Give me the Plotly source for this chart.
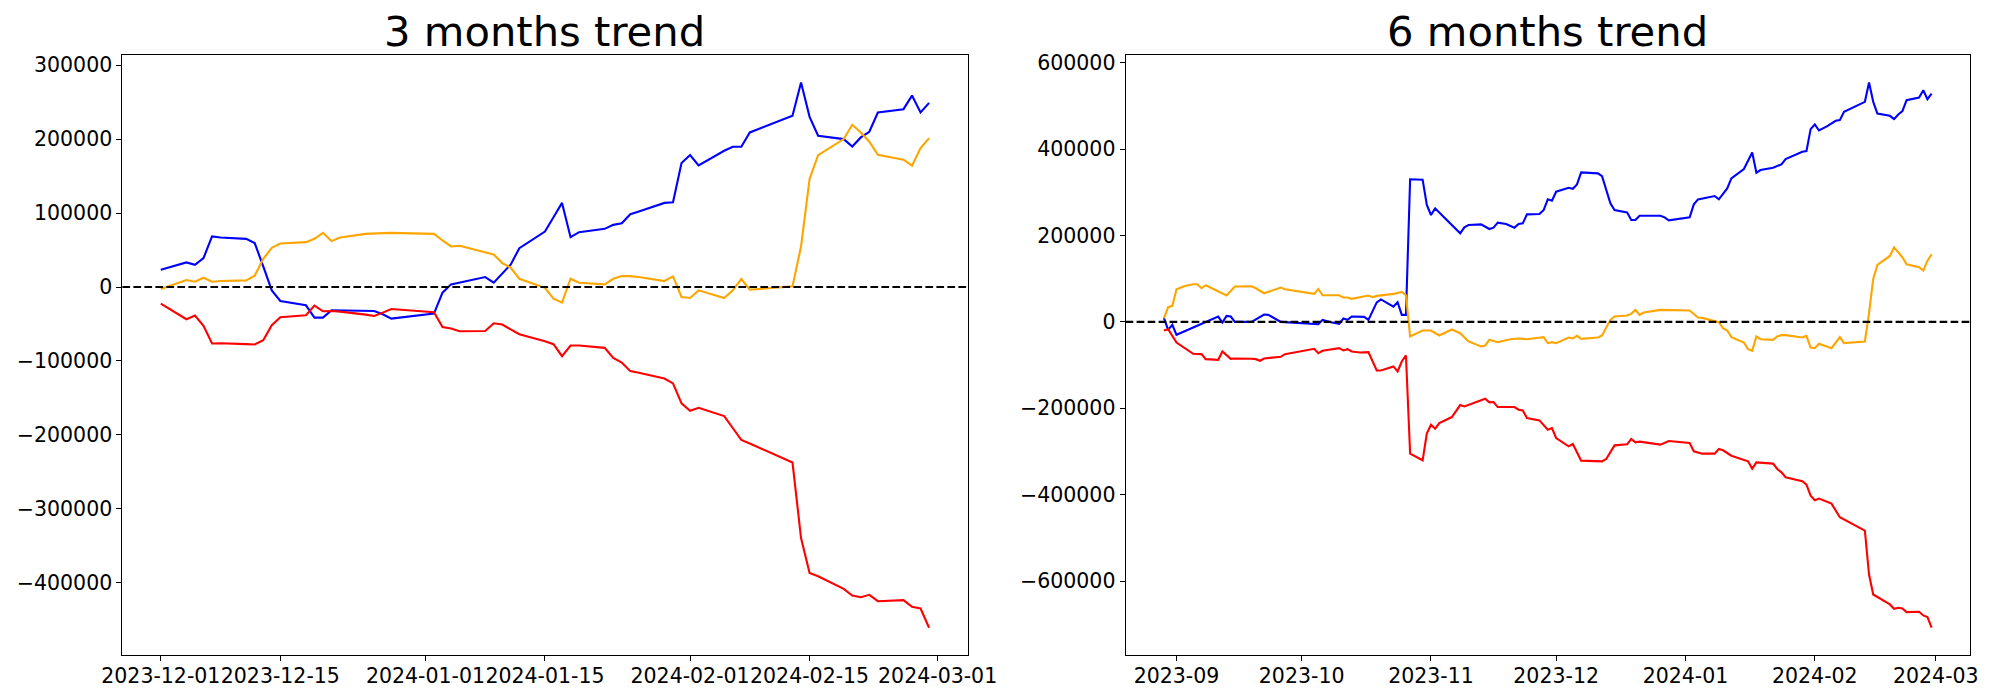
import pandas as pd
import plotly.graph_objects as go

# ---------------- 3 months trend (day offsets from start3) ----------------
start3 = "2023-12-01"
days3 = [0, 3, 4, 5, 6, 7, 10, 11, 12, 13, 14, 17, 18, 19, 20, 21, 24, 25, 26, 27,
         32, 33, 34, 35, 38, 39, 40, 41, 42, 45, 46, 47, 48, 49, 52, 53, 54, 55, 56,
         59, 60, 61, 62, 63, 66, 67, 68, 69, 74, 75, 76, 77, 80, 81, 82, 83, 84,
         87, 88, 89, 90]
blue3 = [23400, 33300, 30100, 39100, 68400, 67000, 65200, 59400, 27900, -4500, -18900,
         -24700, -41400, -41400, -31500, -31800, -32300, -32400, -36900, -42700,
         -36000, -7600, 3600, 6100, 13500, 5800, 18000, 30600, 52600, 75100, 94500,
         113800, 67500, 74200, 78700, 84100, 86300, 98500, 102100, 113800, 114700,
         167700, 178500, 164600, 184400, 189800, 189800, 209100, 231600, 276600,
         230200, 204600, 200100, 190200, 202400, 210000, 236100, 240600, 259000,
         236100, 249100]
orange3 = [-2700, 9400, 7200, 12600, 7200, 8100, 9000, 15300, 38200, 53100, 58900,
           60700, 65200, 73300, 62100, 67000, 71900, 72900, 72900, 73300,
           71900, 63000, 54900, 55800, 46300, 44100, 32400, 26100, 11200, -1000, -15700,
           -21100, 11200, 5800, 3600, 11200, 14800, 14800, 13500, 8100, 14400,
           -13500, -14800, -4500, -14800, -4500, 10800, -3600, 900, 54900,
           146200, 178500, 200100, 219500, 209100, 196500, 179000, 172200, 164100,
           188000, 201500]
red3 = [-22500, -43600, -38700, -52600, -76400, -76000, -77300, -77800, -72000, -51700,
        -40900, -38200, -25200, -32800, -32400, -33300, -37300, -39100, -34600, -29700,
        -34200, -54000, -56200, -59800, -59400, -49000, -50800, -57600, -63900, -73300,
        -77300, -93500, -79100, -79100, -82300, -95800, -102100, -113800, -116000,
        -123700, -130400, -157400, -167300, -163300, -174500, -190700, -206900,
        -211600, -237400, -339500, -386700, -391200, -408300, -417300, -419600,
        -416400, -425000, -423600, -432600, -434900, -460900]
ticks3 = ["2023-12-01", "2023-12-15", "2024-01-01", "2024-01-15", "2024-02-01",
          "2024-02-15", "2024-03-01"]
yticks3 = [-400000, -300000, -200000, -100000, 0, 100000, 200000, 300000]

# ---------------- 6 months trend (day offsets from start6) ----------------
start6 = "2023-09-01"
blue6_days = [-3, -2, -1, 0, 4, 6, 8, 10, 11, 12, 13, 14, 18, 19, 21, 22, 25, 34, 35,
              37, 39, 40, 41, 42, 45, 46, 48, 49, 52, 53, 54, 55, 56, 59, 60, 61, 62,
              64, 66, 68, 69, 70, 73, 74, 75, 76, 77, 79, 81, 82, 83, 84, 87, 88, 89,
              90, 91, 94, 95, 96, 97, 101, 102, 104, 105, 108, 109, 110, 111, 116,
              117, 118, 123, 124, 125, 129, 130, 132, 133, 136, 138, 139, 140, 143,
              144, 145, 146, 150, 151, 152, 153, 154, 156, 158, 159, 160, 165, 166,
              167, 168, 171, 172, 173, 174, 175, 178, 179, 180, 181]
blue6 = [8500, -18500, -6900, -30000, -13100, -4600, 4600, 12300, -1500, 13900, 12300,
         0, 0, 6200, 16900, 16200, 0, -5400, 4600, -800, -4600, 7700, 4600, 12300,
         11600, 4600, 45000, 52000, 35400, 45400, 16200, 16200, 330000, 329000,
         270400, 247300, 262700, 243400, 224200, 204900, 218800, 224200, 225700,
         220300, 214900, 218000, 229500, 226500, 218000, 226500, 228000, 248800,
         249600, 258800, 283500, 280400, 301200, 310400, 308100, 318100, 345900,
         343600, 337400, 274200, 258800, 253400, 235700, 235700, 245700, 245700,
         241900, 234900, 241900, 271900, 283500, 291200, 283500, 308900, 332000,
         353600, 392100, 345100, 351300, 356600, 361300, 364400, 376700, 393600,
         395200, 446000, 456800, 442900, 452900, 465300, 466800, 486100, 509200,
         553800, 509200, 482200, 476800, 469100, 479900, 487600, 513000, 519200,
         536100, 515300, 528400]
orange6_days = [-3, -2, -1, 0, 2, 4, 5, 6, 7, 9, 10, 12, 14, 18, 19, 21, 25, 26, 33,
                34, 35, 39, 40, 41, 42, 46, 47, 48, 52, 54, 55, 56, 59, 61, 63, 66, 68,
                70, 73, 74, 75, 77, 80, 82, 84, 88, 89, 90, 91, 94, 95, 96, 97, 101,
                102, 104, 105, 108, 109, 110, 111, 112, 116, 118, 123, 125, 126, 130,
                131, 132, 133, 136, 137, 138, 139, 140, 143, 144, 145, 146, 150, 151,
                152, 153, 154, 157, 159, 160, 165, 166, 167, 168, 171, 172, 174, 175,
                178, 179, 180, 181]
orange6 = [8500, 33900, 37000, 75500, 83200, 87000, 87000, 77800, 84700, 75500, 71600,
           60900, 81700, 82400, 77800, 66200, 79300, 75500, 64700, 76300, 61600, 61600,
           56200, 56200, 53200, 60900, 57000, 60100, 64700, 69300, 61600, -33900,
           -20000, -20000, -31600, -17700, -26200, -45400, -57000, -54700, -41600,
           -47000, -40100, -38500, -40100, -35400, -49300, -47000, -49300, -36200,
           -38500, -32400, -39300, -36200, -31600, 4600, 12300, 14600, 18500, 27700,
           16200, 21600, 27700, 27000, 26200, 10000, 9200, -800, -14600, -20000,
           -35400, -47800, -63200, -67000, -33900, -40100, -41600, -33900, -30800,
           -30800, -36200, -32400, -59300, -60900, -50800, -60900, -35400, -49300,
           -45400, 20000, 99400, 131700, 152500, 172500, 149400, 133300, 126300,
           118600, 141700, 156400]
red6_days = [-3, -2, 0, 4, 6, 7, 10, 11, 13, 14, 18, 19, 20, 21, 25, 26, 33, 34, 35,
             39, 40, 41, 42, 44, 46, 48, 49, 52, 53, 54, 55, 56, 59, 60, 61, 62, 63,
             66, 68, 69, 74, 75, 76, 77, 81, 82, 83, 84, 87, 89, 90, 91, 94, 95, 97,
             102, 103, 105, 108, 109, 110, 111, 116, 118, 123, 124, 126, 129, 130,
             131, 133, 137, 138, 139, 143, 144, 145, 146, 150, 151, 152, 153, 154,
             157, 159, 165, 166, 167, 171, 172, 173, 174, 175, 178, 179, 180, 181]
red6 = [-20000, -16900, -47800, -73900, -74700, -86300, -87800, -68600, -85500, -84700,
        -85500, -86300, -90100, -84700, -80900, -74700, -62400, -72400, -67000, -60900,
        -66200, -63200, -68600, -70900, -70100, -112500, -112500, -103200, -114800,
        -91700, -77800, -305000, -320400, -258800, -238000, -247300, -234200,
        -220300, -192600, -195700, -177900, -186400, -185600, -197200, -197200,
        -203400, -204900, -222600, -228000, -249600, -245700, -268800, -288100,
        -282700, -321200, -322800, -317400, -285800, -283500, -271100, -278900,
        -277300, -284200, -275800, -280400, -299600, -305000, -305000, -294300,
        -297300, -309700, -322800, -339700, -325100, -328100, -340500, -348200,
        -359700, -369000, -376700, -402100, -412900, -409000, -420600, -452200,
        -483000, -584700, -630900, -654000, -664000, -661700, -663200, -671700,
        -670900, -679400, -683200, -707900]
ticks6 = ["2023-09-01", "2023-10-01", "2023-11-01", "2023-12-01", "2024-01-01",
          "2024-02-01", "2024-03-01"]
ticks6_text = ["2023-09", "2023-10", "2023-11", "2023-12", "2024-01", "2024-02", "2024-03"]
yticks6 = [-600000, -400000, -200000, 0, 200000, 400000, 600000]

titles = ["3 months trend", "6 months trend"]
colors = {"blue": "blue", "orange": "orange", "red": "red"}


def to_dates(start, days):
    return pd.Timestamp(start) + pd.to_timedelta(days, unit="D")


def pad_range(lo, hi, frac=0.05):
    span = hi - lo
    return lo - span * frac, hi + span * frac


FONT = "DejaVu Sans"
fig = go.Figure()

panels = [
    dict(xa="x", ya="y", series=[(to_dates(start3, days3), blue3, "blue"),
                                 (to_dates(start3, days3), orange3, "orange"),
                                 (to_dates(start3, days3), red3, "red")],
         xticks=ticks3, xtext=ticks3, yticks=yticks3),
    dict(xa="x2", ya="y2", series=[(to_dates(start6, blue6_days), blue6, "blue"),
                                   (to_dates(start6, orange6_days), orange6, "orange"),
                                   (to_dates(start6, red6_days), red6, "red")],
         xticks=ticks6, xtext=ticks6_text, yticks=yticks6),
]

domains_x = [[122.4 / 2000, 967.5 / 2000], [1125.6 / 2000, 1970 / 2000]]
dom_y = [1 - 655 / 700, 1 - 55.3 / 700]

for i, p in enumerate(panels):
    allx = []
    ally = []
    for xs, ys, c in p["series"]:
        fig.add_trace(go.Scatter(x=xs, y=ys, mode="lines", xaxis=p["xa"], yaxis=p["ya"],
                                 line=dict(color=colors[c], width=2.1), showlegend=False))
        allx.extend(list(xs))
        ally.extend(ys)
    xmin, xmax = min(allx), max(allx)
    xlo, xhi = pad_range(xmin, xmax)
    ylo, yhi = pad_range(min(ally), max(ally))
    sfx = "" if i == 0 else "2"
    common = dict(showline=True, linecolor="black", linewidth=1.1, mirror=True,
                  ticks="outside", ticklen=5, tickwidth=1.1, tickcolor="black",
                  showgrid=False, zeroline=False, automargin=False,
                  tickfont=dict(family=FONT, size=20.5, color="black"))
    fig.layout["xaxis" + sfx] = dict(domain=domains_x[i], range=[xlo, xhi], type="date",
                                     tickmode="array", tickvals=p["xticks"],
                                     ticktext=p["xtext"], tickangle=0,
                                     ticklabelstandoff=-3,
                                     anchor="y" + sfx, **common)
    fig.layout["yaxis" + sfx] = dict(domain=dom_y, range=[ylo, yhi], tickmode="array",
                                     tickvals=p["yticks"],
                                     ticktext=[str(v).replace("-", "\u2212") for v in p["yticks"]],
                                     anchor="x" + sfx, **common)
    fig.add_shape(type="line", xref=("x" + sfx) + " domain", yref="y" + sfx,
                  x0=0, x1=1, y0=0, y1=0, layer="above",
                  line=dict(color="black", width=2.1, dash="7.7px,3.3px"))
    fig.add_annotation(text=titles[i], xref="paper", yref="paper",
                       x=sum(domains_x[i]) / 2, y=1 - 32 / 700, xanchor="center",
                       yanchor="middle", showarrow=False,
                       font=dict(family=FONT, size=41.7, color="black"))

fig.update_layout(width=2000, height=700, margin=dict(l=0, r=0, t=0, b=0),
                  paper_bgcolor="white", plot_bgcolor="white",
                  font=dict(family=FONT, color="black"))
fig.write_html("out.html", config={"displayModeBar": False},
               post_script="document.body.style.margin='0';document.body.style.overflow='hidden';")
